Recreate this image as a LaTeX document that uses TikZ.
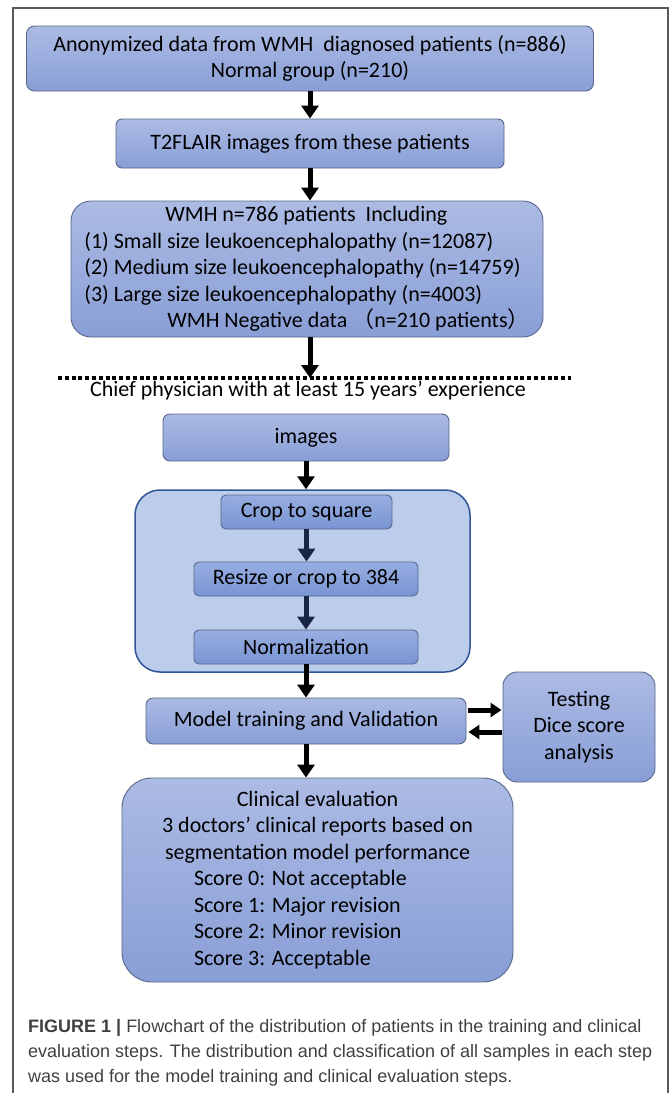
\documentclass[tikz,border=0pt]{standalone}
\usepackage{fontspec}
\setmainfont{Carlito}
\newfontfamily\capfont{Liberation Sans}
\newfontfamily\cjk{Noto Sans CJK SC}
\usetikzlibrary{arrows.meta}
\definecolor{boxtop}{RGB}{172,187,228}
\definecolor{boxbot}{RGB}{137,158,214}
\definecolor{subtop}{RGB}{152,174,225}
\definecolor{subbot}{RGB}{120,148,211}
\definecolor{boxline}{RGB}{88,102,140}
\definecolor{groupfill}{RGB}{188,205,235}
\definecolor{groupline}{RGB}{47,85,151}
\definecolor{navyarrow}{RGB}{24,38,68}
\tikzset{
  every node/.style={inner sep=0pt, font=\fontsize{22}{26.5}\selectfont},
  box/.style={draw=boxline, line width=0.9pt, top color=boxtop, bottom color=boxbot, rounded corners=#1},
  box/.default=7pt,
  subbox/.style={draw=boxline, line width=0.9pt, top color=subtop, bottom color=subbot, rounded corners=5pt},
  group/.style={draw=groupline, line width=1.5pt, fill=groupfill, rounded corners=25pt},
  flow/.style={-{Triangle[width=17pt,length=13pt]}, line width=5pt},
  innerflow/.style={flow, navyarrow},
  sideflow/.style={-{Triangle[width=14pt,length=11pt]}, line width=5pt},
  cutline/.style={line width=4.5pt, dash pattern=on 4pt off 2.8pt},
  frame/.style={draw=black!65, line width=1.2pt},
}
\begin{document}
\begin{tikzpicture}[x=1pt, y=-1pt]
  \useasboundingbox (0,0) rectangle (670,1093);
  \draw[frame] (13,1093) -- (13,8) -- (668,8) -- (668,1093);

  \node[box=8pt, minimum width=567pt, minimum height=65pt, align=center] (anon) at (310,58.5)
    {Anonymized data from WMH\ \ diagnosed patients (n=886)\\Normal group (n=210)};
  \node[box=6pt, minimum width=388pt, minimum height=49pt] (t2flair) at (310,143.5)
    {T2FLAIR images from these patients};
  \node[box=20pt, minimum width=472pt, minimum height=136pt, align=left] (wmh) at (307,269)
    {\hspace*{81pt}WMH n=786 patients\ \ Including\\
     (1) Small size leukoencephalopathy (n=12087)\\
     (2) Medium size leukoencephalopathy (n=14759)\\
     (3) Large size leukoencephalopathy (n=4003)\\
     \hspace*{83pt}WMH Negative data {\cjk （}n=210 patients{\cjk ）}};

  \coordinate (cutL) at (58,378);
  \coordinate (cutR) at (571,378);
  \draw[cutline] (cutL) -- (cutR);
  \node (chief) at (308,391) {Chief physician with at least 15 years’ experience};

  \node[box=7pt, minimum width=286pt, minimum height=47pt] (images) at (306,437.5) {images};
  \node[group, minimum width=335pt, minimum height=182pt] (prep) at (302.5,581) {};
  \node[subbox, minimum width=171pt, minimum height=34pt] (crop) at (306.5,512) {Crop to square};
  \node[subbox, minimum width=224pt, minimum height=34pt] (resize) at (306,579) {Resize or crop to 384};
  \node[subbox, minimum width=224pt, minimum height=34pt] (norm) at (306,647) {Normalization};

  \node[box=7pt, minimum width=320pt, minimum height=46pt] (model) at (306,721) {Model training and Validation};
  \node[box=14pt, minimum width=152pt, minimum height=110pt, align=center] (testing) at (579,727)
    {Testing\\Dice score\\analysis};
  \node[box=30pt, minimum width=391pt, minimum height=204pt, align=center] (clinical) at (317.5,880)
    {Clinical evaluation\\
     3 doctors’ clinical reports based on\\
     segmentation model performance\\
     \makebox[247pt][l]{Score 0: Not acceptable}\\
     \makebox[247pt][l]{Score 1: Major revision}\\
     \makebox[247pt][l]{Score 2: Minor revision}\\
     \makebox[247pt][l]{Score 3: Acceptable}};

  \draw[flow] (anon) -- (t2flair);
  \draw[flow] (t2flair) -- (t2flair |- wmh.north);
  \draw[flow] (t2flair |- wmh.south) -- (t2flair |- cutR);
  \draw[flow] (images) -- (images |- prep.north);
  \draw[innerflow] (crop) -- (crop |- resize.north);
  \draw[innerflow] (resize) -- (resize |- norm.north);
  \draw[flow] (norm) -- (norm |- model.north);
  \draw[flow] (model) -- (model |- clinical.north);
  \draw[sideflow, shorten <=2pt, shorten >=1pt] ([yshift=11pt]model.east) -- ([yshift=11pt]model.east -| testing.west);
  \draw[sideflow, shorten <=1pt, shorten >=2pt] ([yshift=-11pt]model.east -| testing.west) -- ([yshift=-11pt]model.east);

  \node[anchor=north west, align=left, text=black!75, font=\capfont\fontsize{18}{25}\selectfont] (caption) at (28,1019.5)
    {\textbf{FIGURE 1} \textbf{|} Flowchart of the distribution of patients in the training and clinical\\
     evaluation steps. The distribution and classification of all samples in each step\\
     was used for the model training and clinical evaluation steps.};
\end{tikzpicture}
\end{document}
